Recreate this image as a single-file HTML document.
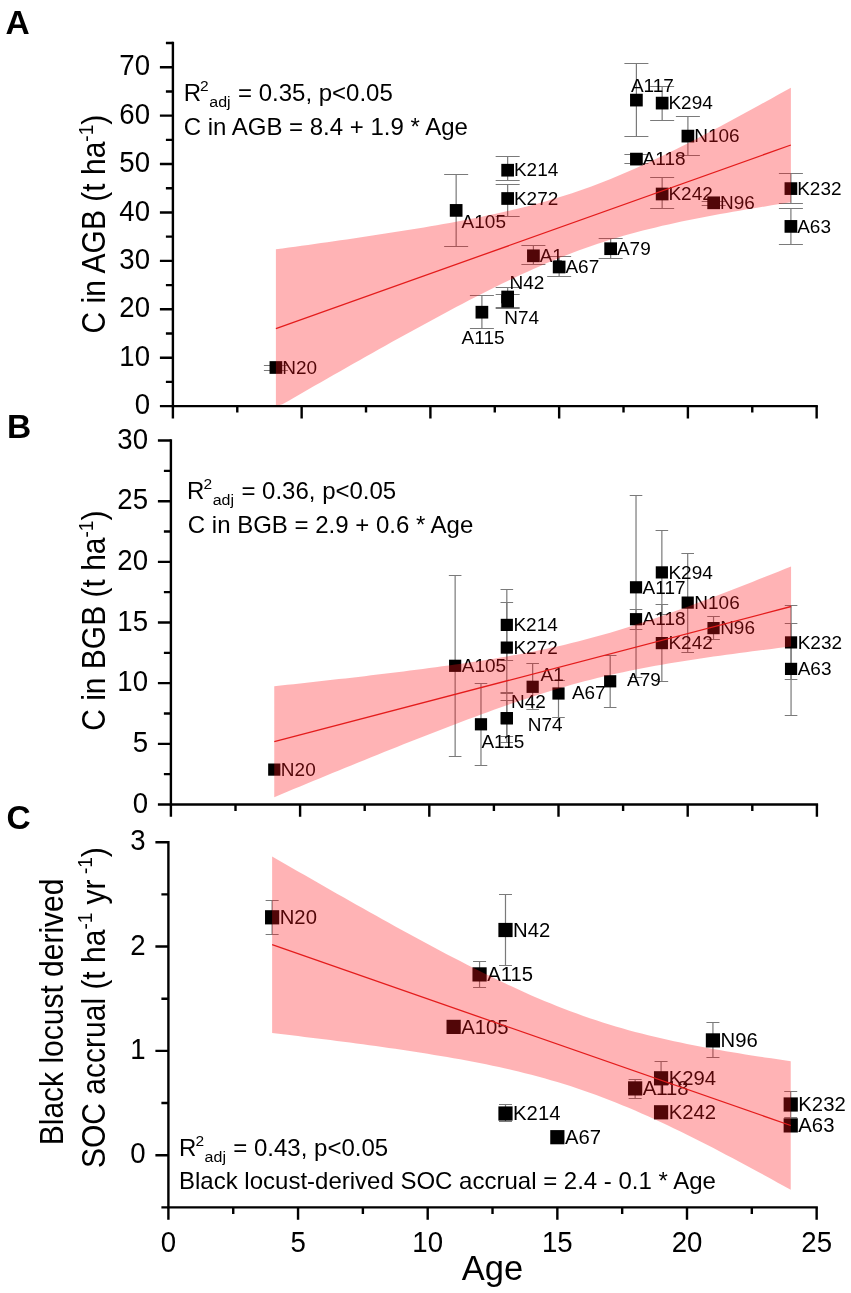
<!DOCTYPE html><html><head><meta charset="utf-8"><style>html,body{margin:0;padding:0;background:#fff;}svg{display:block;will-change:transform;}text{font-family:"Liberation Sans", sans-serif;}</style></head><body>
<svg width="851" height="1293" viewBox="0 0 851 1293">
<rect width="851" height="1293" fill="#fff"/>
<path d="M275.90 365.50V370.50M263.90 365.50H287.90M263.90 370.50H287.90" stroke="#7a7a7a" stroke-width="1.2" fill="none"/>
<path d="M456.15 174.50V246.50M444.15 174.50H468.15M444.15 246.50H468.15" stroke="#7a7a7a" stroke-width="1.2" fill="none"/>
<path d="M481.90 295.50V328.50M469.90 295.50H493.90M469.90 328.50H493.90" stroke="#7a7a7a" stroke-width="1.2" fill="none"/>
<path d="M507.65 156.50V180.50M495.65 156.50H519.65M495.65 180.50H519.65" stroke="#7a7a7a" stroke-width="1.2" fill="none"/>
<path d="M507.65 184.50V216.50M495.65 184.50H519.65M495.65 216.50H519.65" stroke="#7a7a7a" stroke-width="1.2" fill="none"/>
<path d="M507.65 287.50V307.50M495.65 287.50H519.65M495.65 307.50H519.65" stroke="#7a7a7a" stroke-width="1.2" fill="none"/>
<path d="M507.65 294.50V308.50M495.65 294.50H519.65M495.65 308.50H519.65" stroke="#7a7a7a" stroke-width="1.2" fill="none"/>
<path d="M533.40 245.50V264.50M521.40 245.50H545.40M521.40 264.50H545.40" stroke="#7a7a7a" stroke-width="1.2" fill="none"/>
<path d="M559.15 256.50V276.50M547.15 256.50H571.15M547.15 276.50H571.15" stroke="#7a7a7a" stroke-width="1.2" fill="none"/>
<path d="M610.65 238.50V258.50M598.65 238.50H622.65M598.65 258.50H622.65" stroke="#7a7a7a" stroke-width="1.2" fill="none"/>
<path d="M636.40 63.50V136.50M624.40 63.50H648.40M624.40 136.50H648.40" stroke="#7a7a7a" stroke-width="1.2" fill="none"/>
<path d="M636.40 154.50V163.50M624.40 154.50H648.40M624.40 163.50H648.40" stroke="#7a7a7a" stroke-width="1.2" fill="none"/>
<path d="M662.15 86.50V120.50M650.15 86.50H674.15M650.15 120.50H674.15" stroke="#7a7a7a" stroke-width="1.2" fill="none"/>
<path d="M662.15 177.50V208.50M650.15 177.50H674.15M650.15 208.50H674.15" stroke="#7a7a7a" stroke-width="1.2" fill="none"/>
<path d="M687.90 116.50V155.50M675.90 116.50H699.90M675.90 155.50H699.90" stroke="#7a7a7a" stroke-width="1.2" fill="none"/>
<path d="M713.65 201.50V205.50M701.65 201.50H725.65M701.65 205.50H725.65" stroke="#7a7a7a" stroke-width="1.2" fill="none"/>
<path d="M790.90 173.50V203.50M778.90 173.50H802.90M778.90 203.50H802.90" stroke="#7a7a7a" stroke-width="1.2" fill="none"/>
<path d="M790.90 208.50V244.50M778.90 208.50H802.90M778.90 244.50H802.90" stroke="#7a7a7a" stroke-width="1.2" fill="none"/>
<rect x="269.55" y="361.15" width="12.7" height="12.7" fill="#000"/>
<rect x="449.80" y="204.05" width="12.7" height="12.7" fill="#000"/>
<rect x="475.55" y="305.85" width="12.7" height="12.7" fill="#000"/>
<rect x="501.30" y="163.85" width="12.7" height="12.7" fill="#000"/>
<rect x="501.30" y="192.15" width="12.7" height="12.7" fill="#000"/>
<rect x="501.30" y="290.65" width="12.7" height="12.7" fill="#000"/>
<rect x="501.30" y="294.85" width="12.7" height="12.7" fill="#000"/>
<rect x="527.05" y="249.45" width="12.7" height="12.7" fill="#000"/>
<rect x="552.80" y="260.65" width="12.7" height="12.7" fill="#000"/>
<rect x="604.30" y="242.35" width="12.7" height="12.7" fill="#000"/>
<rect x="630.05" y="93.75" width="12.7" height="12.7" fill="#000"/>
<rect x="630.05" y="152.75" width="12.7" height="12.7" fill="#000"/>
<rect x="655.80" y="96.75" width="12.7" height="12.7" fill="#000"/>
<rect x="655.80" y="187.65" width="12.7" height="12.7" fill="#000"/>
<rect x="681.55" y="129.75" width="12.7" height="12.7" fill="#000"/>
<rect x="707.30" y="196.45" width="12.7" height="12.7" fill="#000"/>
<rect x="784.55" y="182.25" width="12.7" height="12.7" fill="#000"/>
<rect x="784.55" y="220.05" width="12.7" height="12.7" fill="#000"/>
<text transform="translate(282.20,373.70) scale(1,0.97)" font-size="19">N20</text>
<text transform="translate(461.60,228.30) scale(1,0.97)" font-size="19">A105</text>
<text transform="translate(461.60,343.90) scale(1,0.97)" font-size="19">A115</text>
<text transform="translate(513.95,176.40) scale(1,0.97)" font-size="19">K214</text>
<text transform="translate(513.95,204.70) scale(1,0.97)" font-size="19">K272</text>
<text transform="translate(509.50,288.70) scale(1,0.97)" font-size="19">N42</text>
<text transform="translate(504.20,323.90) scale(1,0.97)" font-size="19">N74</text>
<text transform="translate(539.70,262.00) scale(1,0.97)" font-size="19">A1</text>
<text transform="translate(565.45,273.20) scale(1,0.97)" font-size="19">A67</text>
<text transform="translate(616.95,254.90) scale(1,0.97)" font-size="19">A79</text>
<text transform="translate(630.90,91.90) scale(1,0.97)" font-size="19">A117</text>
<text transform="translate(642.70,165.30) scale(1,0.97)" font-size="19">A118</text>
<text transform="translate(668.45,109.30) scale(1,0.97)" font-size="19">K294</text>
<text transform="translate(668.45,200.20) scale(1,0.97)" font-size="19">K242</text>
<text transform="translate(694.20,142.30) scale(1,0.97)" font-size="19">N106</text>
<text transform="translate(719.95,209.00) scale(1,0.97)" font-size="19">N96</text>
<text transform="translate(797.20,194.80) scale(1,0.97)" font-size="19">K232</text>
<text transform="translate(797.20,232.60) scale(1,0.97)" font-size="19">A63</text>
<path d="M275.90 249.33 L282.34 248.45 L288.77 247.57 L295.21 246.69 L301.65 245.80 L308.09 244.90 L314.52 244.00 L320.96 243.10 L327.40 242.18 L333.84 241.26 L340.27 240.34 L346.71 239.40 L353.15 238.46 L359.59 237.51 L366.02 236.55 L372.46 235.58 L378.90 234.60 L385.34 233.61 L391.77 232.61 L398.21 231.60 L404.65 230.57 L411.09 229.53 L417.52 228.47 L423.96 227.39 L430.40 226.30 L436.84 225.19 L443.27 224.05 L449.71 222.90 L456.15 221.71 L462.59 220.51 L469.02 219.27 L475.46 218.00 L481.90 216.70 L488.34 215.36 L494.77 213.98 L501.21 212.56 L507.65 211.10 L514.09 209.58 L520.52 208.02 L526.96 206.40 L533.40 204.72 L539.84 202.98 L546.27 201.17 L552.71 199.29 L559.15 197.34 L565.59 195.32 L572.02 193.22 L578.46 191.04 L584.90 188.78 L591.34 186.45 L597.77 184.03 L604.21 181.54 L610.65 178.97 L617.09 176.33 L623.52 173.61 L629.96 170.83 L636.40 167.98 L642.84 165.07 L649.27 162.09 L655.71 159.07 L662.15 155.99 L668.59 152.86 L675.02 149.69 L681.46 146.47 L687.90 143.22 L694.34 139.93 L700.77 136.60 L707.21 133.25 L713.65 129.86 L720.09 126.45 L726.52 123.02 L732.96 119.56 L739.40 116.08 L745.84 112.58 L752.27 109.06 L758.71 105.53 L765.15 101.98 L771.59 98.41 L778.02 94.84 L784.46 91.25 L790.90 87.64 L790.90 202.36 L784.46 203.35 L778.02 204.35 L771.59 205.36 L765.15 206.39 L758.71 207.43 L752.27 208.49 L745.84 209.57 L739.40 210.66 L732.96 211.77 L726.52 212.91 L720.09 214.06 L713.65 215.25 L707.21 216.45 L700.77 217.69 L694.34 218.96 L687.90 220.26 L681.46 221.60 L675.02 222.98 L668.59 224.40 L662.15 225.86 L655.71 227.38 L649.27 228.94 L642.84 230.56 L636.40 232.24 L629.96 233.98 L623.52 235.79 L617.09 237.67 L610.65 239.62 L604.21 241.64 L597.77 243.74 L591.34 245.92 L584.90 248.18 L578.46 250.51 L572.02 252.93 L565.59 255.42 L559.15 257.99 L552.71 260.63 L546.27 263.35 L539.84 266.13 L533.40 268.98 L526.96 271.89 L520.52 274.87 L514.09 277.89 L507.65 280.97 L501.21 284.10 L494.77 287.27 L488.34 290.49 L481.90 293.74 L475.46 297.03 L469.02 300.36 L462.59 303.71 L456.15 307.10 L449.71 310.51 L443.27 313.94 L436.84 317.40 L430.40 320.88 L423.96 324.38 L417.52 327.90 L411.09 331.43 L404.65 334.98 L398.21 338.55 L391.77 342.12 L385.34 345.71 L378.90 349.32 L372.46 352.93 L366.02 356.55 L359.59 360.19 L353.15 363.83 L346.71 367.48 L340.27 371.14 L333.84 374.80 L327.40 378.48 L320.96 382.16 L314.52 385.84 L308.09 389.53 L301.65 393.23 L295.21 396.93 L288.77 400.64 L282.34 404.35 L275.90 406.10Z" fill="rgba(255,20,25,0.32)"/>
<line x1="275.90" y1="328.70" x2="790.90" y2="145.00" stroke="#e41c1c" stroke-width="1.3"/>
<path d="M172.9 43.03V406.1M172.9 406.1H816.65" stroke="#000" stroke-width="2.4" fill="none" stroke-linecap="square"/>
<text transform="translate(150.00,414.30) scale(1.0,1.1)" font-size="27.6" text-anchor="end">0</text>
<text transform="translate(150.00,365.89) scale(1.0,1.1)" font-size="27.6" text-anchor="end">10</text>
<text transform="translate(150.00,317.48) scale(1.0,1.1)" font-size="27.6" text-anchor="end">20</text>
<text transform="translate(150.00,269.07) scale(1.0,1.1)" font-size="27.6" text-anchor="end">30</text>
<text transform="translate(150.00,220.66) scale(1.0,1.1)" font-size="27.6" text-anchor="end">40</text>
<text transform="translate(150.00,172.25) scale(1.0,1.1)" font-size="27.6" text-anchor="end">50</text>
<text transform="translate(150.00,123.84) scale(1.0,1.1)" font-size="27.6" text-anchor="end">60</text>
<text transform="translate(150.00,75.43) scale(1.0,1.1)" font-size="27.6" text-anchor="end">70</text>
<path d="M159.90 406.10H172.9M165.90 381.90H172.9M159.90 357.69H172.9M165.90 333.49H172.9M159.90 309.28H172.9M165.90 285.08H172.9M159.90 260.87H172.9M165.90 236.67H172.9M159.90 212.46H172.9M165.90 188.26H172.9M159.90 164.05H172.9M165.90 139.85H172.9M159.90 115.64H172.9M165.90 91.44H172.9M159.90 67.23H172.9M165.90 43.03H172.9M172.90 406.1V418.40M237.28 406.1V412.60M301.65 406.1V418.40M366.02 406.1V412.60M430.40 406.1V418.40M494.77 406.1V412.60M559.15 406.1V418.40M623.52 406.1V412.60M687.90 406.1V418.40M752.27 406.1V412.60M816.65 406.1V418.40" stroke="#000" stroke-width="2.4" fill="none"/>
<path d="M455.14 575.50V756.50M448.84 575.50H461.44M448.84 756.50H461.44" stroke="#7a7a7a" stroke-width="1.2" fill="none"/>
<path d="M480.98 683.50V765.50M474.68 683.50H487.28M474.68 765.50H487.28" stroke="#7a7a7a" stroke-width="1.2" fill="none"/>
<path d="M506.82 589.50V660.50M500.52 589.50H513.12M500.52 660.50H513.12" stroke="#7a7a7a" stroke-width="1.2" fill="none"/>
<path d="M506.82 602.50V692.50M500.52 602.50H513.12M500.52 692.50H513.12" stroke="#7a7a7a" stroke-width="1.2" fill="none"/>
<path d="M506.82 700.50V736.50M500.52 700.50H513.12M500.52 736.50H513.12" stroke="#7a7a7a" stroke-width="1.2" fill="none"/>
<path d="M506.82 693.50V742.50M500.52 693.50H513.12M500.52 742.50H513.12" stroke="#7a7a7a" stroke-width="1.2" fill="none"/>
<path d="M532.66 663.50V709.50M526.36 663.50H538.96M526.36 709.50H538.96" stroke="#7a7a7a" stroke-width="1.2" fill="none"/>
<path d="M558.50 680.50V717.50M552.20 680.50H564.80M552.20 717.50H564.80" stroke="#7a7a7a" stroke-width="1.2" fill="none"/>
<path d="M610.18 655.50V707.50M603.88 655.50H616.48M603.88 707.50H616.48" stroke="#7a7a7a" stroke-width="1.2" fill="none"/>
<path d="M636.02 495.50V677.50M629.72 495.50H642.32M629.72 677.50H642.32" stroke="#7a7a7a" stroke-width="1.2" fill="none"/>
<path d="M636.02 609.50V629.50M629.72 609.50H642.32M629.72 629.50H642.32" stroke="#7a7a7a" stroke-width="1.2" fill="none"/>
<path d="M661.86 530.50V614.50M655.56 530.50H668.16M655.56 614.50H668.16" stroke="#7a7a7a" stroke-width="1.2" fill="none"/>
<path d="M661.86 604.50V681.50M655.56 604.50H668.16M655.56 681.50H668.16" stroke="#7a7a7a" stroke-width="1.2" fill="none"/>
<path d="M687.70 553.50V652.50M681.40 553.50H694.00M681.40 652.50H694.00" stroke="#7a7a7a" stroke-width="1.2" fill="none"/>
<path d="M713.54 616.50V639.50M707.24 616.50H719.84M707.24 639.50H719.84" stroke="#7a7a7a" stroke-width="1.2" fill="none"/>
<path d="M791.06 605.50V679.50M784.76 605.50H797.36M784.76 679.50H797.36" stroke="#7a7a7a" stroke-width="1.2" fill="none"/>
<path d="M791.06 623.50V715.50M784.76 623.50H797.36M784.76 715.50H797.36" stroke="#7a7a7a" stroke-width="1.2" fill="none"/>
<rect x="268.16" y="763.50" width="12.2" height="12.2" fill="#000"/>
<rect x="449.04" y="659.70" width="12.2" height="12.2" fill="#000"/>
<rect x="474.88" y="718.20" width="12.2" height="12.2" fill="#000"/>
<rect x="500.72" y="618.80" width="12.2" height="12.2" fill="#000"/>
<rect x="500.72" y="641.50" width="12.2" height="12.2" fill="#000"/>
<rect x="500.72" y="712.10" width="12.2" height="12.2" fill="#000"/>
<rect x="500.72" y="712.10" width="12.2" height="12.2" fill="#000"/>
<rect x="526.56" y="680.70" width="12.2" height="12.2" fill="#000"/>
<rect x="552.40" y="687.40" width="12.2" height="12.2" fill="#000"/>
<rect x="604.08" y="675.20" width="12.2" height="12.2" fill="#000"/>
<rect x="629.92" y="581.20" width="12.2" height="12.2" fill="#000"/>
<rect x="629.92" y="613.10" width="12.2" height="12.2" fill="#000"/>
<rect x="655.76" y="566.30" width="12.2" height="12.2" fill="#000"/>
<rect x="655.76" y="637.00" width="12.2" height="12.2" fill="#000"/>
<rect x="681.60" y="596.50" width="12.2" height="12.2" fill="#000"/>
<rect x="707.44" y="622.00" width="12.2" height="12.2" fill="#000"/>
<rect x="784.96" y="636.30" width="12.2" height="12.2" fill="#000"/>
<rect x="784.96" y="662.80" width="12.2" height="12.2" fill="#000"/>
<text transform="translate(280.86,775.80) scale(1,0.97)" font-size="19">N20</text>
<text transform="translate(461.74,672.00) scale(1,0.97)" font-size="19">A105</text>
<text transform="translate(481.40,748.00) scale(1,0.97)" font-size="19">A115</text>
<text transform="translate(513.42,631.10) scale(1,0.97)" font-size="19">K214</text>
<text transform="translate(513.42,653.80) scale(1,0.97)" font-size="19">K272</text>
<text transform="translate(511.00,707.70) scale(1,0.97)" font-size="19">N42</text>
<text transform="translate(527.70,730.50) scale(1,0.97)" font-size="19">N74</text>
<text transform="translate(540.60,681.40) scale(1,0.97)" font-size="19">A1</text>
<text transform="translate(571.90,699.40) scale(1,0.97)" font-size="19">A67</text>
<text transform="translate(627.00,686.40) scale(1,0.97)" font-size="19">A79</text>
<text transform="translate(642.62,593.50) scale(1,0.97)" font-size="19">A117</text>
<text transform="translate(642.62,625.40) scale(1,0.97)" font-size="19">A118</text>
<text transform="translate(668.46,578.60) scale(1,0.97)" font-size="19">K294</text>
<text transform="translate(668.46,649.30) scale(1,0.97)" font-size="19">K242</text>
<text transform="translate(694.30,608.80) scale(1,0.97)" font-size="19">N106</text>
<text transform="translate(720.14,634.30) scale(1,0.97)" font-size="19">N96</text>
<text transform="translate(797.66,648.60) scale(1,0.97)" font-size="19">K232</text>
<text transform="translate(797.66,675.10) scale(1,0.97)" font-size="19">A63</text>
<path d="M274.26 686.27 L280.72 685.57 L287.18 684.87 L293.64 684.16 L300.10 683.46 L306.56 682.74 L313.02 682.03 L319.48 681.31 L325.94 680.58 L332.40 679.86 L338.86 679.12 L345.32 678.38 L351.78 677.64 L358.24 676.89 L364.70 676.13 L371.16 675.37 L377.62 674.60 L384.08 673.82 L390.54 673.04 L397.00 672.24 L403.46 671.44 L409.92 670.62 L416.38 669.80 L422.84 668.96 L429.30 668.11 L435.76 667.25 L442.22 666.37 L448.68 665.48 L455.14 664.56 L461.60 663.63 L468.06 662.68 L474.52 661.71 L480.98 660.72 L487.44 659.69 L493.90 658.65 L500.36 657.57 L506.82 656.46 L513.28 655.32 L519.74 654.14 L526.20 652.92 L532.66 651.66 L539.12 650.36 L545.58 649.01 L552.04 647.61 L558.50 646.16 L564.96 644.66 L571.42 643.11 L577.88 641.50 L584.34 639.84 L590.80 638.12 L597.26 636.35 L603.72 634.52 L610.18 632.64 L616.64 630.71 L623.10 628.73 L629.56 626.70 L636.02 624.62 L642.48 622.50 L648.94 620.34 L655.40 618.14 L661.86 615.90 L668.32 613.63 L674.78 611.33 L681.24 608.99 L687.70 606.64 L694.16 604.25 L700.62 601.84 L707.08 599.41 L713.54 596.96 L720.00 594.50 L726.46 592.01 L732.92 589.51 L739.38 586.99 L745.84 584.46 L752.30 581.92 L758.76 579.36 L765.22 576.80 L771.68 574.22 L778.14 571.64 L784.60 569.04 L791.06 566.44 L791.06 646.56 L784.60 647.34 L778.14 648.12 L771.68 648.92 L765.22 649.72 L758.76 650.54 L752.30 651.36 L745.84 652.20 L739.38 653.05 L732.92 653.91 L726.46 654.79 L720.00 655.68 L713.54 656.60 L707.08 657.53 L700.62 658.48 L694.16 659.45 L687.70 660.44 L681.24 661.47 L674.78 662.51 L668.32 663.59 L661.86 664.70 L655.40 665.84 L648.94 667.02 L642.48 668.24 L636.02 669.50 L629.56 670.80 L623.10 672.15 L616.64 673.55 L610.18 675.00 L603.72 676.50 L597.26 678.05 L590.80 679.66 L584.34 681.32 L577.88 683.04 L571.42 684.81 L564.96 686.64 L558.50 688.52 L552.04 690.45 L545.58 692.43 L539.12 694.46 L532.66 696.54 L526.20 698.66 L519.74 700.82 L513.28 703.02 L506.82 705.26 L500.36 707.53 L493.90 709.83 L487.44 712.17 L480.98 714.52 L474.52 716.91 L468.06 719.32 L461.60 721.75 L455.14 724.20 L448.68 726.66 L442.22 729.15 L435.76 731.65 L429.30 734.17 L422.84 736.70 L416.38 739.24 L409.92 741.80 L403.46 744.36 L397.00 746.94 L390.54 749.52 L384.08 752.12 L377.62 754.72 L371.16 757.33 L364.70 759.95 L358.24 762.57 L351.78 765.20 L345.32 767.84 L338.86 770.48 L332.40 773.12 L325.94 775.78 L319.48 778.43 L313.02 781.09 L306.56 783.76 L300.10 786.42 L293.64 789.10 L287.18 791.77 L280.72 794.45 L274.26 797.13Z" fill="rgba(255,20,25,0.32)"/>
<line x1="274.26" y1="741.70" x2="791.06" y2="606.50" stroke="#e41c1c" stroke-width="1.3"/>
<path d="M170.9 440.51V804.5M170.9 804.5H816.90" stroke="#000" stroke-width="2.4" fill="none" stroke-linecap="square"/>
<text transform="translate(148.00,812.70) scale(1.0,1.1)" font-size="27.6" text-anchor="end">0</text>
<text transform="translate(148.00,752.04) scale(1.0,1.1)" font-size="27.6" text-anchor="end">5</text>
<text transform="translate(148.00,691.37) scale(1.0,1.1)" font-size="27.6" text-anchor="end">10</text>
<text transform="translate(148.00,630.71) scale(1.0,1.1)" font-size="27.6" text-anchor="end">15</text>
<text transform="translate(148.00,570.04) scale(1.0,1.1)" font-size="27.6" text-anchor="end">20</text>
<text transform="translate(148.00,509.38) scale(1.0,1.1)" font-size="27.6" text-anchor="end">25</text>
<text transform="translate(148.00,448.71) scale(1.0,1.1)" font-size="27.6" text-anchor="end">30</text>
<path d="M157.90 804.50H170.9M163.90 774.17H170.9M157.90 743.84H170.9M163.90 713.50H170.9M157.90 683.17H170.9M163.90 652.84H170.9M157.90 622.50H170.9M163.90 592.17H170.9M157.90 561.84H170.9M163.90 531.51H170.9M157.90 501.18H170.9M163.90 470.84H170.9M157.90 440.51H170.9M170.90 804.5V816.80M235.50 804.5V811.00M300.10 804.5V816.80M364.70 804.5V811.00M429.30 804.5V816.80M493.90 804.5V811.00M558.50 804.5V816.80M623.10 804.5V811.00M687.70 804.5V816.80M752.30 804.5V811.00M816.90 804.5V816.80" stroke="#000" stroke-width="2.4" fill="none"/>
<path d="M272.12 900.50V934.50M265.62 900.50H278.62M265.62 934.50H278.62" stroke="#7a7a7a" stroke-width="1.2" fill="none"/>
<path d="M479.56 961.50V987.50M473.06 961.50H486.06M473.06 987.50H486.06" stroke="#7a7a7a" stroke-width="1.2" fill="none"/>
<path d="M505.49 894.50V965.50M498.99 894.50H511.99M498.99 965.50H511.99" stroke="#7a7a7a" stroke-width="1.2" fill="none"/>
<path d="M505.49 1104.50V1121.50M498.99 1104.50H511.99M498.99 1121.50H511.99" stroke="#7a7a7a" stroke-width="1.2" fill="none"/>
<path d="M635.14 1079.50V1098.50M628.64 1079.50H641.64M628.64 1098.50H641.64" stroke="#7a7a7a" stroke-width="1.2" fill="none"/>
<path d="M661.07 1061.50V1094.50M654.57 1061.50H667.57M654.57 1094.50H667.57" stroke="#7a7a7a" stroke-width="1.2" fill="none"/>
<path d="M712.93 1022.50V1057.50M706.43 1022.50H719.43M706.43 1057.50H719.43" stroke="#7a7a7a" stroke-width="1.2" fill="none"/>
<path d="M790.72 1091.50V1117.50M784.22 1091.50H797.22M784.22 1117.50H797.22" stroke="#7a7a7a" stroke-width="1.2" fill="none"/>
<rect x="265.02" y="910.20" width="14.2" height="14.2" fill="#000"/>
<rect x="446.53" y="1019.80" width="14.2" height="14.2" fill="#000"/>
<rect x="472.46" y="967.30" width="14.2" height="14.2" fill="#000"/>
<rect x="498.39" y="922.90" width="14.2" height="14.2" fill="#000"/>
<rect x="498.39" y="1106.40" width="14.2" height="14.2" fill="#000"/>
<rect x="550.25" y="1130.10" width="14.2" height="14.2" fill="#000"/>
<rect x="628.04" y="1081.30" width="14.2" height="14.2" fill="#000"/>
<rect x="653.97" y="1071.20" width="14.2" height="14.2" fill="#000"/>
<rect x="653.97" y="1105.20" width="14.2" height="14.2" fill="#000"/>
<rect x="705.83" y="1033.30" width="14.2" height="14.2" fill="#000"/>
<rect x="783.62" y="1097.40" width="14.2" height="14.2" fill="#000"/>
<rect x="783.62" y="1118.30" width="14.2" height="14.2" fill="#000"/>
<text transform="translate(279.72,924.20) scale(1,0.97)" font-size="20.3">N20</text>
<text transform="translate(461.23,1033.80) scale(1,0.97)" font-size="20.3">A105</text>
<text transform="translate(487.16,981.30) scale(1,0.97)" font-size="20.3">A115</text>
<text transform="translate(513.09,936.90) scale(1,0.97)" font-size="20.3">N42</text>
<text transform="translate(513.09,1120.40) scale(1,0.97)" font-size="20.3">K214</text>
<text transform="translate(564.95,1144.10) scale(1,0.97)" font-size="20.3">A67</text>
<text transform="translate(642.74,1095.30) scale(1,0.97)" font-size="20.3">A118</text>
<text transform="translate(668.67,1085.20) scale(1,0.97)" font-size="20.3">K294</text>
<text transform="translate(668.67,1119.20) scale(1,0.97)" font-size="20.3">K242</text>
<text transform="translate(720.53,1047.30) scale(1,0.97)" font-size="20.3">N96</text>
<text transform="translate(798.32,1111.40) scale(1,0.97)" font-size="20.3">K232</text>
<text transform="translate(798.32,1132.30) scale(1,0.97)" font-size="20.3">A63</text>
<path d="M272.12 856.39 L278.60 860.15 L285.09 863.90 L291.57 867.65 L298.05 871.39 L304.53 875.12 L311.01 878.85 L317.50 882.57 L323.98 886.28 L330.46 889.99 L336.94 893.68 L343.43 897.36 L349.91 901.04 L356.39 904.70 L362.88 908.35 L369.36 911.99 L375.84 915.62 L382.32 919.23 L388.81 922.83 L395.29 926.42 L401.77 929.98 L408.25 933.53 L414.74 937.06 L421.22 940.57 L427.70 944.06 L434.18 947.52 L440.66 950.97 L447.15 954.38 L453.63 957.77 L460.11 961.12 L466.60 964.45 L473.08 967.74 L479.56 970.99 L486.04 974.20 L492.52 977.37 L499.01 980.50 L505.49 983.58 L511.97 986.62 L518.46 989.59 L524.94 992.52 L531.42 995.38 L537.90 998.19 L544.38 1000.93 L550.87 1003.61 L557.35 1006.22 L563.83 1008.75 L570.32 1011.22 L576.80 1013.62 L583.28 1015.94 L589.76 1018.18 L596.25 1020.36 L602.73 1022.46 L609.21 1024.49 L615.69 1026.45 L622.17 1028.34 L628.66 1030.16 L635.14 1031.91 L641.62 1033.61 L648.11 1035.24 L654.59 1036.82 L661.07 1038.34 L667.55 1039.81 L674.03 1041.24 L680.52 1042.61 L687.00 1043.95 L693.48 1045.24 L699.96 1046.49 L706.45 1047.71 L712.93 1048.90 L719.41 1050.05 L725.89 1051.17 L732.38 1052.27 L738.86 1053.34 L745.34 1054.39 L751.82 1055.41 L758.31 1056.42 L764.79 1057.40 L771.27 1058.37 L777.75 1059.31 L784.24 1060.24 L790.72 1061.16 L790.72 1189.84 L784.24 1186.24 L777.75 1182.65 L771.27 1179.07 L764.79 1175.52 L758.31 1171.98 L751.82 1168.47 L745.34 1164.97 L738.86 1161.50 L732.38 1158.05 L725.89 1154.63 L719.41 1151.23 L712.93 1147.86 L706.45 1144.53 L699.96 1141.23 L693.48 1137.96 L687.00 1134.73 L680.52 1131.55 L674.03 1128.40 L667.55 1125.31 L661.07 1122.26 L654.59 1119.26 L648.11 1116.32 L641.62 1113.43 L635.14 1110.61 L628.66 1107.84 L622.17 1105.14 L615.69 1102.51 L609.21 1099.95 L602.73 1097.46 L596.25 1095.04 L589.76 1092.70 L583.28 1090.42 L576.80 1088.22 L570.32 1086.10 L563.83 1084.05 L557.35 1082.06 L550.87 1080.15 L544.38 1078.31 L537.90 1076.53 L531.42 1074.82 L524.94 1073.16 L518.46 1071.57 L511.97 1070.02 L505.49 1068.54 L499.01 1067.10 L492.52 1065.71 L486.04 1064.36 L479.56 1063.05 L473.08 1061.78 L466.60 1060.55 L460.11 1059.36 L453.63 1058.19 L447.15 1057.06 L440.66 1055.95 L434.18 1054.88 L427.70 1053.82 L421.22 1052.79 L414.74 1051.78 L408.25 1050.79 L401.77 1049.82 L395.29 1048.86 L388.81 1047.93 L382.32 1047.01 L375.84 1046.10 L369.36 1045.21 L362.88 1044.33 L356.39 1043.46 L349.91 1042.60 L343.43 1041.76 L336.94 1040.92 L330.46 1040.09 L323.98 1039.28 L317.50 1038.47 L311.01 1037.67 L304.53 1036.88 L298.05 1036.09 L291.57 1035.31 L285.09 1034.54 L278.60 1033.77 L272.12 1033.01Z" fill="rgba(255,20,25,0.32)"/>
<line x1="272.12" y1="944.70" x2="790.72" y2="1125.50" stroke="#e41c1c" stroke-width="1.3"/>
<path d="M168.4 842.21V1207.4M168.4 1207.4H816.65" stroke="#000" stroke-width="2.4" fill="none" stroke-linecap="square"/>
<text transform="translate(145.50,1163.40) scale(1.0,1.1)" font-size="27.6" text-anchor="end">0</text>
<text transform="translate(145.50,1059.07) scale(1.0,1.1)" font-size="27.6" text-anchor="end">1</text>
<text transform="translate(145.50,954.74) scale(1.0,1.1)" font-size="27.6" text-anchor="end">2</text>
<text transform="translate(145.50,850.41) scale(1.0,1.1)" font-size="27.6" text-anchor="end">3</text>
<path d="M161.40 1207.37H168.4M155.40 1155.20H168.4M161.40 1103.04H168.4M155.40 1050.87H168.4M161.40 998.71H168.4M155.40 946.54H168.4M161.40 894.38H168.4M155.40 842.21H168.4M168.40 1207.4V1219.70M233.23 1207.4V1213.90M298.05 1207.4V1219.70M362.88 1207.4V1213.90M427.70 1207.4V1219.70M492.52 1207.4V1213.90M557.35 1207.4V1219.70M622.17 1207.4V1213.90M687.00 1207.4V1219.70M751.82 1207.4V1213.90M816.65 1207.4V1219.70" stroke="#000" stroke-width="2.4" fill="none"/>
<text transform="translate(168.40,1251.60) scale(1.0,1.1)" font-size="27.6" text-anchor="middle">0</text>
<text transform="translate(298.05,1251.60) scale(1.0,1.1)" font-size="27.6" text-anchor="middle">5</text>
<text transform="translate(427.70,1251.60) scale(1.0,1.1)" font-size="27.6" text-anchor="middle">10</text>
<text transform="translate(557.35,1251.60) scale(1.0,1.1)" font-size="27.6" text-anchor="middle">15</text>
<text transform="translate(687.00,1251.60) scale(1.0,1.1)" font-size="27.6" text-anchor="middle">20</text>
<text transform="translate(816.65,1251.60) scale(1.0,1.1)" font-size="27.6" text-anchor="middle">25</text>
<text transform="translate(461.70,1279.80)" font-size="34.5">Age</text>
<text transform="translate(5.40,33.70)" font-size="33.5" font-weight="bold">A</text>
<text transform="translate(6.90,437.70)" font-size="33.5" font-weight="bold">B</text>
<text transform="translate(6.60,828.50)" font-size="33.5" font-weight="bold">C</text>
<text transform="translate(183.70,100.70)" font-size="24">R</text>
<text transform="translate(200.10,90.80)" font-size="15.5">2</text>
<text transform="translate(209.30,106.70) scale(1,0.93)" font-size="16">adj</text>
<text transform="translate(238.00,100.70)" font-size="24">= 0.35, p&lt;0.05</text>
<text transform="translate(183.70,135.20)" font-size="24">C in AGB = 8.4 + 1.9 * Age</text>
<text transform="translate(187.10,499.20)" font-size="24">R</text>
<text transform="translate(203.50,489.30)" font-size="15.5">2</text>
<text transform="translate(212.70,505.20) scale(1,0.93)" font-size="16">adj</text>
<text transform="translate(241.40,499.20)" font-size="24">= 0.36, p&lt;0.05</text>
<text transform="translate(187.80,533.30)" font-size="24">C in BGB = 2.9 + 0.6 * Age</text>
<text transform="translate(179.00,1155.70)" font-size="24">R</text>
<text transform="translate(195.40,1145.80)" font-size="15.5">2</text>
<text transform="translate(204.60,1161.70) scale(1,0.93)" font-size="16">adj</text>
<text transform="translate(233.30,1155.70)" font-size="24">= 0.43, p&lt;0.05</text>
<text transform="translate(179.00,1188.60)" font-size="24">Black locust-derived SOC accrual = 2.4 - 0.1 * Age</text>
<text transform="translate(105.3,224.1) rotate(-90) scale(1,1.08)" font-size="30.0" text-anchor="middle">C in AGB (t ha<tspan font-size="19" dy="-11.2">-1</tspan><tspan dy="11.2">)</tspan></text>
<text transform="translate(104.9,620.7) rotate(-90) scale(1,1.08)" font-size="30.0" text-anchor="middle">C in BGB (t ha<tspan font-size="19" dy="-11.2">-1</tspan><tspan dy="11.2">)</tspan></text>
<text transform="translate(63,1011.9) rotate(-90) scale(1,1.08)" font-size="30.0" text-anchor="middle">Black locust derived</text>
<text transform="translate(104.5,1007.6) rotate(-90) scale(1,1.08)" font-size="30.0" text-anchor="middle">SOC accrual (t ha<tspan font-size="19" dy="-11.2">-1</tspan><tspan dy="11.2"> yr</tspan><tspan font-size="19" dy="-11.2"> -1</tspan><tspan dy="11.2">)</tspan></text>
</svg></body></html>
